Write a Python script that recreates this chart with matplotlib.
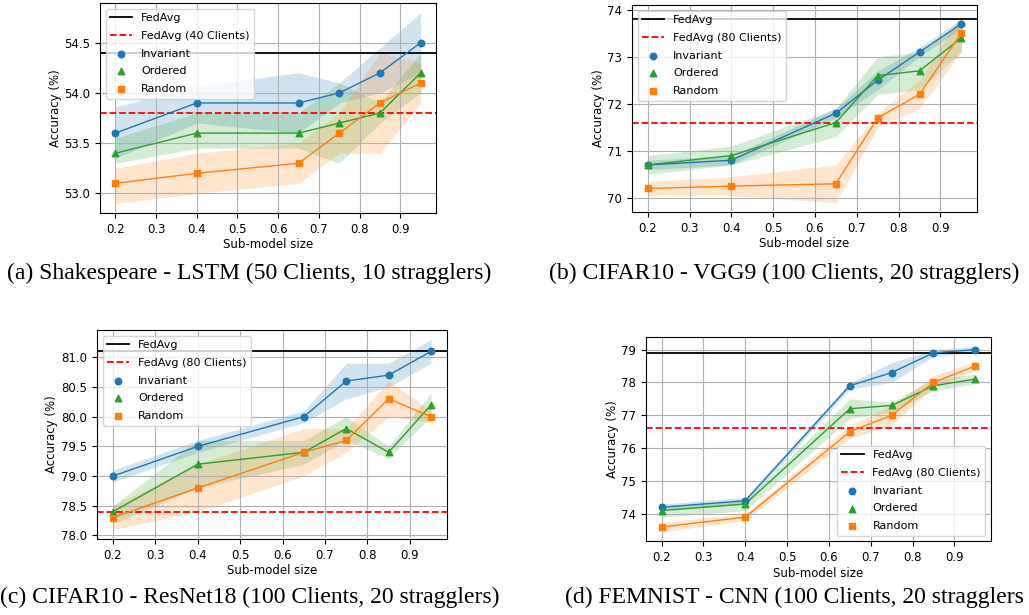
import matplotlib
matplotlib.use("Agg")
import matplotlib.pyplot as plt

sizes = [0.2, 0.4, 0.65, 0.75, 0.85, 0.95]

# (a) Shakespeare - LSTM
a_inv = [53.6, 53.9, 53.9, 54.0, 54.2, 54.5]
a_inv_lo = [53.35, 53.7, 53.6, 53.9, 54.0, 54.2]
a_inv_hi = [53.86, 54.07, 54.2, 54.1, 54.45, 54.8]
a_ord = [53.4, 53.6, 53.6, 53.7, 53.8, 54.2]
a_ord_lo = [53.3, 53.45, 53.45, 53.3, 53.7, 54.0]
a_ord_hi = [53.55, 53.8, 53.8, 54.1, 53.9, 54.4]
a_rnd = [53.1, 53.2, 53.3, 53.6, 53.9, 54.1]
a_rnd_lo = [52.9, 53.0, 53.1, 53.4, 53.4, 53.9]
a_rnd_hi = [53.25, 53.4, 53.5, 53.8, 54.4, 54.3]
a_fedavg = 54.4
a_fedavg_sub = 53.8

# (b) CIFAR10 - VGG9
b_inv = [70.7, 70.8, 71.8, 72.5, 73.1, 73.7]
b_inv_lo = [70.6, 70.7, 71.7, 72.3, 73.0, 73.6]
b_inv_hi = [70.8, 70.9, 71.9, 72.7, 73.2, 73.8]
b_ord = [70.7, 70.9, 71.6, 72.6, 72.7, 73.4]
b_ord_lo = [70.5, 70.7, 71.3, 72.2, 72.3, 73.1]
b_ord_hi = [70.9, 71.1, 71.9, 73.0, 73.1, 73.7]
b_rnd = [70.2, 70.25, 70.3, 71.7, 72.2, 73.5]
b_rnd_lo = [70.05, 70.05, 69.9, 71.5, 71.9, 73.1]
b_rnd_hi = [70.35, 70.45, 70.7, 71.8, 72.5, 73.9]
b_fedavg = 73.8
b_fedavg_sub = 71.6

# (c) CIFAR10 - ResNet18
c_inv = [79.0, 79.5, 80.0, 80.6, 80.7, 81.1]
c_inv_lo = [78.9, 79.4, 79.9, 80.3, 80.5, 80.9]
c_inv_hi = [79.1, 79.6, 80.1, 80.9, 80.9, 81.3]
c_ord = [78.4, 79.2, 79.4, 79.8, 79.4, 80.2]
c_ord_lo = [78.2, 78.8, 79.2, 79.6, 79.3, 80.0]
c_ord_hi = [78.5, 79.6, 79.6, 80.0, 79.5, 80.4]
c_rnd = [78.3, 78.8, 79.4, 79.6, 80.3, 80.0]
c_rnd_lo = [78.1, 78.4, 79.0, 79.4, 80.0, 79.9]
c_rnd_hi = [78.5, 79.2, 79.8, 79.8, 80.6, 80.1]
c_fedavg = 81.1
c_fedavg_sub = 78.4

# (d) FEMNIST - CNN
d_inv = [74.2, 74.4, 77.9, 78.3, 78.9, 79.0]
d_inv_lo = [74.1, 74.3, 77.8, 78.0, 78.8, 78.9]
d_inv_hi = [74.3, 74.5, 78.0, 78.6, 79.0, 79.1]
d_ord = [74.1, 74.3, 77.2, 77.3, 77.9, 78.1]
d_ord_lo = [73.9, 74.1, 76.9, 77.1, 77.75, 77.95]
d_ord_hi = [74.25, 74.4, 77.5, 77.4, 78.1, 78.25]
d_rnd = [73.6, 73.9, 76.5, 77.0, 78.0, 78.5]
d_rnd_lo = [73.45, 73.8, 76.3, 76.7, 77.85, 78.35]
d_rnd_hi = [73.75, 74.0, 76.7, 77.3, 78.2, 78.65]
d_fedavg = 78.9
d_fedavg_sub = 76.6

captions = [
    "(a) Shakespeare - LSTM (50 Clients, 10 stragglers)",
    "(b) CIFAR10 - VGG9 (100 Clients, 20 stragglers)",
    "(c) CIFAR10 - ResNet18 (100 Clients, 20 stragglers)",
    "(d) FEMNIST - CNN (100 Clients, 20 stragglers",
]

plt.rcParams["font.size"] = 8.5

fig = plt.figure(figsize=(10.29, 6.15), dpi=100)


def draw(ax, inv, inv_lo, inv_hi, ord_, ord_lo, ord_hi, rnd, rnd_lo, rnd_hi,
         fedavg, fedavg_sub, sub_label, loc):
    ax.axhline(fedavg, color="black", lw=1.3, label="FedAvg")
    ax.axhline(fedavg_sub, color="red", ls="--", lw=1.3, label=sub_label)
    for y, lo, hi, c, m, name in [
        (inv, inv_lo, inv_hi, "tab:blue", "o", "Invariant"),
        (ord_, ord_lo, ord_hi, "tab:green", "^", "Ordered"),
        (rnd, rnd_lo, rnd_hi, "tab:orange", "s", "Random"),
    ]:
        ax.fill_between(sizes, lo, hi, color=c, alpha=0.2, lw=0)
        ax.plot(sizes, y, color=c, lw=1)
        ax.scatter(sizes, y, color=c, marker=m, s=22, zorder=3, label=name)
    ax.grid(True)
    ax.set_xticks([0.2, 0.3, 0.4, 0.5, 0.6, 0.7, 0.8, 0.9])
    ax.set_xlabel("Sub-model size", labelpad=2)
    ax.set_ylabel("Accuracy (%)", labelpad=2)
    ax.legend(loc=loc, fontsize=8, labelspacing=0.7)


ax1 = fig.add_axes([0.0972, 0.6537, 0.3265, 0.3414])
draw(ax1, a_inv, a_inv_lo, a_inv_hi, a_ord, a_ord_lo, a_ord_hi,
     a_rnd, a_rnd_lo, a_rnd_hi, a_fedavg, a_fedavg_sub, "FedAvg (40 Clients)", "upper left")
ax1.set_yticks([53.0, 53.5, 54.0, 54.5])

ax2 = fig.add_axes([0.6142, 0.6553, 0.3353, 0.3366])
draw(ax2, b_inv, b_inv_lo, b_inv_hi, b_ord, b_ord_lo, b_ord_hi,
     b_rnd, b_rnd_lo, b_rnd_hi, b_fedavg, b_fedavg_sub, "FedAvg (80 Clients)", "upper left")
ax2.set_yticks([70, 71, 72, 73, 74])

ax3 = fig.add_axes([0.0943, 0.1236, 0.3401, 0.3398])
draw(ax3, c_inv, c_inv_lo, c_inv_hi, c_ord, c_ord_lo, c_ord_hi,
     c_rnd, c_rnd_lo, c_rnd_hi, c_fedavg, c_fedavg_sub, "FedAvg (80 Clients)", "upper left")
ax3.set_yticks([78.0, 78.5, 79.0, 79.5, 80.0, 80.5, 81.0])

ax4 = fig.add_axes([0.6278, 0.12, 0.3352, 0.332])
draw(ax4, d_inv, d_inv_lo, d_inv_hi, d_ord, d_ord_lo, d_ord_hi,
     d_rnd, d_rnd_lo, d_rnd_hi, d_fedavg, d_fedavg_sub, "FedAvg (80 Clients)", "lower right")
ax4.set_yticks([74, 75, 76, 77, 78, 79])

cap_font = dict(family="Liberation Serif", fontsize=17, va="center")
fig.text(0.0068, 1 - 273 / 615, captions[0], ha="left", **cap_font)
fig.text(0.534, 1 - 273 / 615, captions[1], ha="left", **cap_font)
fig.text(0.0, 1 - 597 / 615, captions[2], ha="left", **cap_font)
fig.text(0.549, 1 - 597 / 615, captions[3], ha="left", **cap_font)

fig.savefig("out.png", dpi=100)
